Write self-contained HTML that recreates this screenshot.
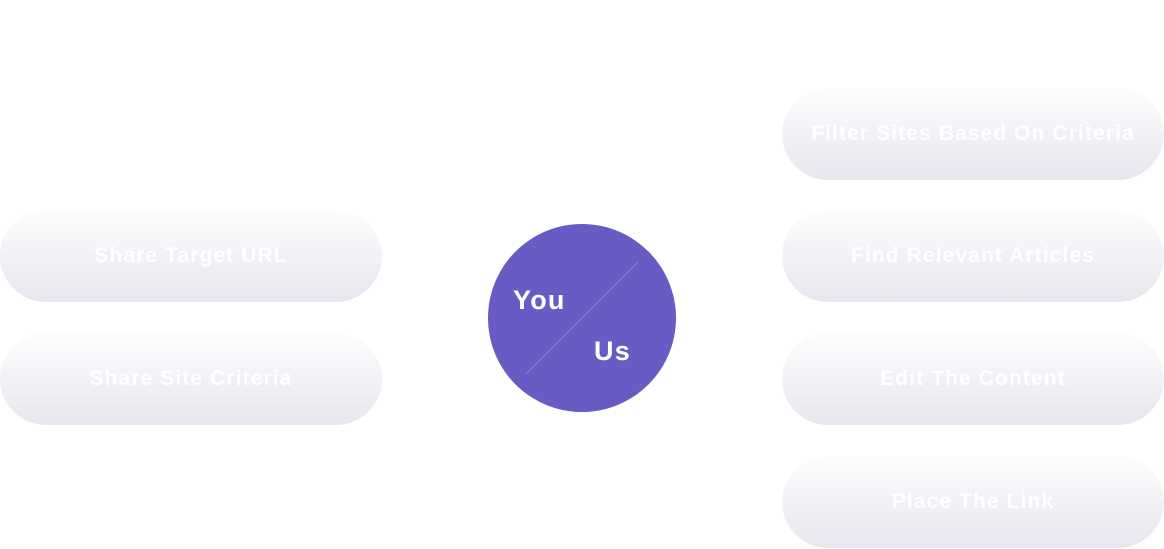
<!DOCTYPE html>
<html><head><style>
body{margin:0;width:1164px;height:549px;background:#fff;position:relative;overflow:hidden;font-family:"Liberation Sans",sans-serif}
.p{position:absolute;width:382px;height:92px;border-radius:46px;background:linear-gradient(#fdfdfe,#e7e6ee);color:#fff;font-weight:bold;font-size:21px;letter-spacing:1.1px;display:flex;align-items:center;justify-content:center}
.c{position:absolute;left:488px;top:224px;width:188px;height:188px;border-radius:50%;background:#685cc4;overflow:hidden}
.t{position:absolute;color:#fff;font-size:27px;font-weight:bold;letter-spacing:1.2px}
</style></head><body>
<div class="p" style="left:0;top:210px">Share Target URL</div>
<div class="p" style="left:0;top:333px">Share Site Criteria</div>
<div class="p" style="left:782px;top:88px">Filter Sites Based On Criteria</div>
<div class="p" style="left:782px;top:210px">Find Relevant Articles</div>
<div class="p" style="left:782px;top:333px">Edit The Content</div>
<div class="p" style="left:782px;top:456px">Place The Link</div>
<div class="c"><svg width="188" height="188" style="position:absolute;left:0;top:0"><line x1="150" y1="38" x2="38" y2="150" stroke="#8379d2" stroke-width="1.2"/></svg></div>
<div class="t" style="left:513px;top:285px">You</div>
<div class="t" style="left:594px;top:336px">Us</div>
</body></html>
